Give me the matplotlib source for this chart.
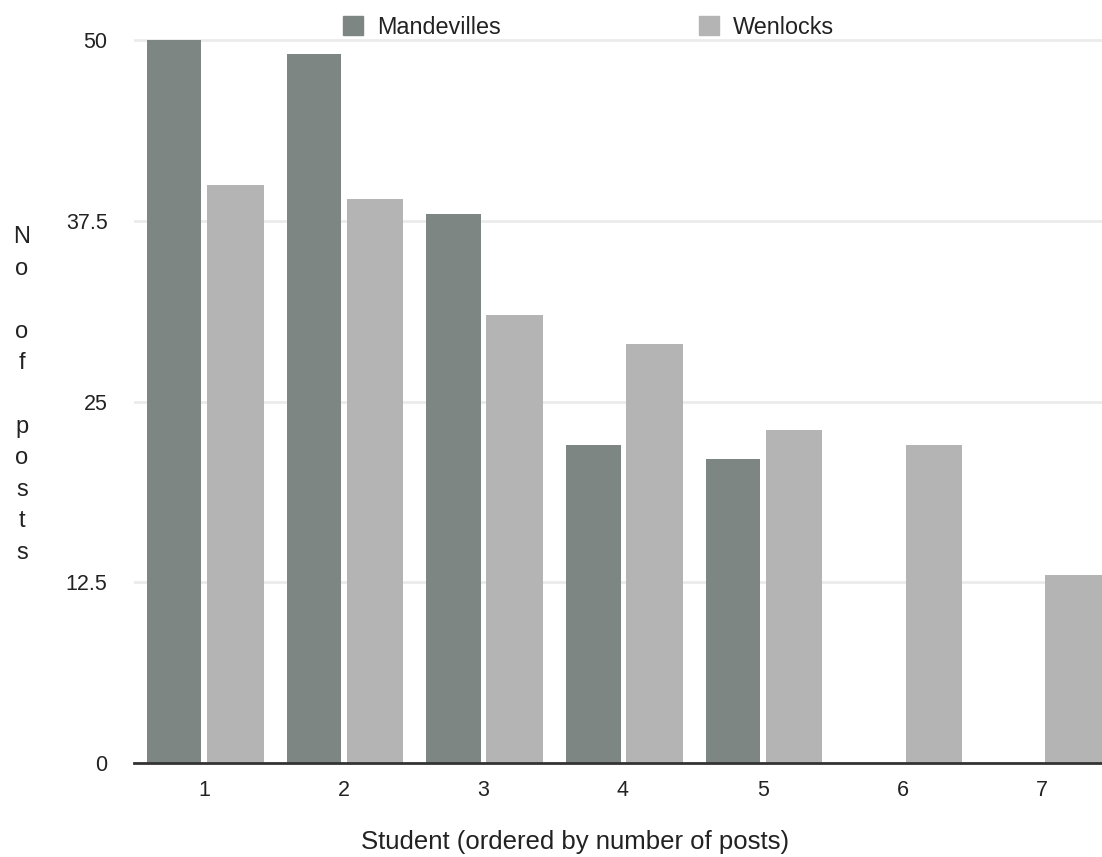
import matplotlib
matplotlib.use("Agg")
import matplotlib.pyplot as plt
import numpy as np
from matplotlib.patches import Patch

students = ["1", "2", "3", "4", "5", "6", "7"]
mandevilles = [50, 49, 38, 22, 21, 0, 0]
wenlocks = [40, 39, 31, 29, 23, 22, 13]
series_names = ["Mandevilles", "Wenlocks"]
yticks = [0, 12.5, 25, 37.5, 50]
ytick_labels = ["0", "12.5", "25", "37.5", "50"]

c_m = "#7e8683"
c_w = "#b4b4b4"

plt.rcParams['font.family'] = ['Liberation Sans', 'DejaVu Sans']

W, H = 1102, 857
fig = plt.figure(figsize=(W / 100, H / 100), dpi=100)

x0, x1 = 134, 1112
ybot, ytop = 763, 40 - 14.46
ax = fig.add_axes([x0 / W, 1 - ybot / H, (x1 - x0) / W, (ybot - ytop) / H])

x = np.arange(1, len(students) + 1)
ax.bar(x - 0.212, mandevilles, width=0.39, color=c_m, zorder=2)
ax.bar(x + 0.225, wenlocks, width=0.405, color=c_w, zorder=2)

ax.set_xlim(0.5, 7.5)
ax.set_ylim(0, 51)
ax.set_yticks(yticks)
ax.set_yticklabels(ytick_labels)
ax.set_xticks(x)
ax.set_xticklabels(students)
ax.tick_params(axis='both', length=0, labelsize=15.5, colors='#222222')
ax.tick_params(axis='y', pad=19)
ax.tick_params(axis='x', pad=12)

for s in ['top', 'right', 'left']:
    ax.spines[s].set_visible(False)
ax.spines['bottom'].set_color('#333333')
ax.spines['bottom'].set_linewidth(2)
ax.spines['bottom'].set_zorder(3)

ax.yaxis.grid(True, color='#ebebeb', linewidth=2, zorder=0)
ax.set_axisbelow(True)

ax.set_xlabel("Student (ordered by number of posts)", fontsize=18.5, color='#222222')
ax.xaxis.set_label_coords((575 - x0) / (x1 - x0), -(842 - ybot) / (ybot - ytop))
ax.xaxis.label.set_va('center')

fig.text(22 / W, 1 - 395 / H, "N\no\n\no\nf\n\np\no\ns\nt\ns", ha='center', va='center',
         multialignment='center', fontsize=17, linespacing=1.56, color='#222222')

handles = [Patch(color=c_m, label=series_names[0]), Patch(color=c_w, label=series_names[1])]
leg = fig.legend(handles=handles, loc='center left', bbox_to_anchor=(343 / W, 1 - 27 / H),
                 ncol=2, frameon=False, fontsize=16.8, handlelength=0.85, handleheight=0.85,
                 handletextpad=0.6, columnspacing=8.5, borderpad=0, borderaxespad=0)
for t in leg.get_texts():
    t.set_color('#222222')

fig.savefig("out.png", dpi=100)
